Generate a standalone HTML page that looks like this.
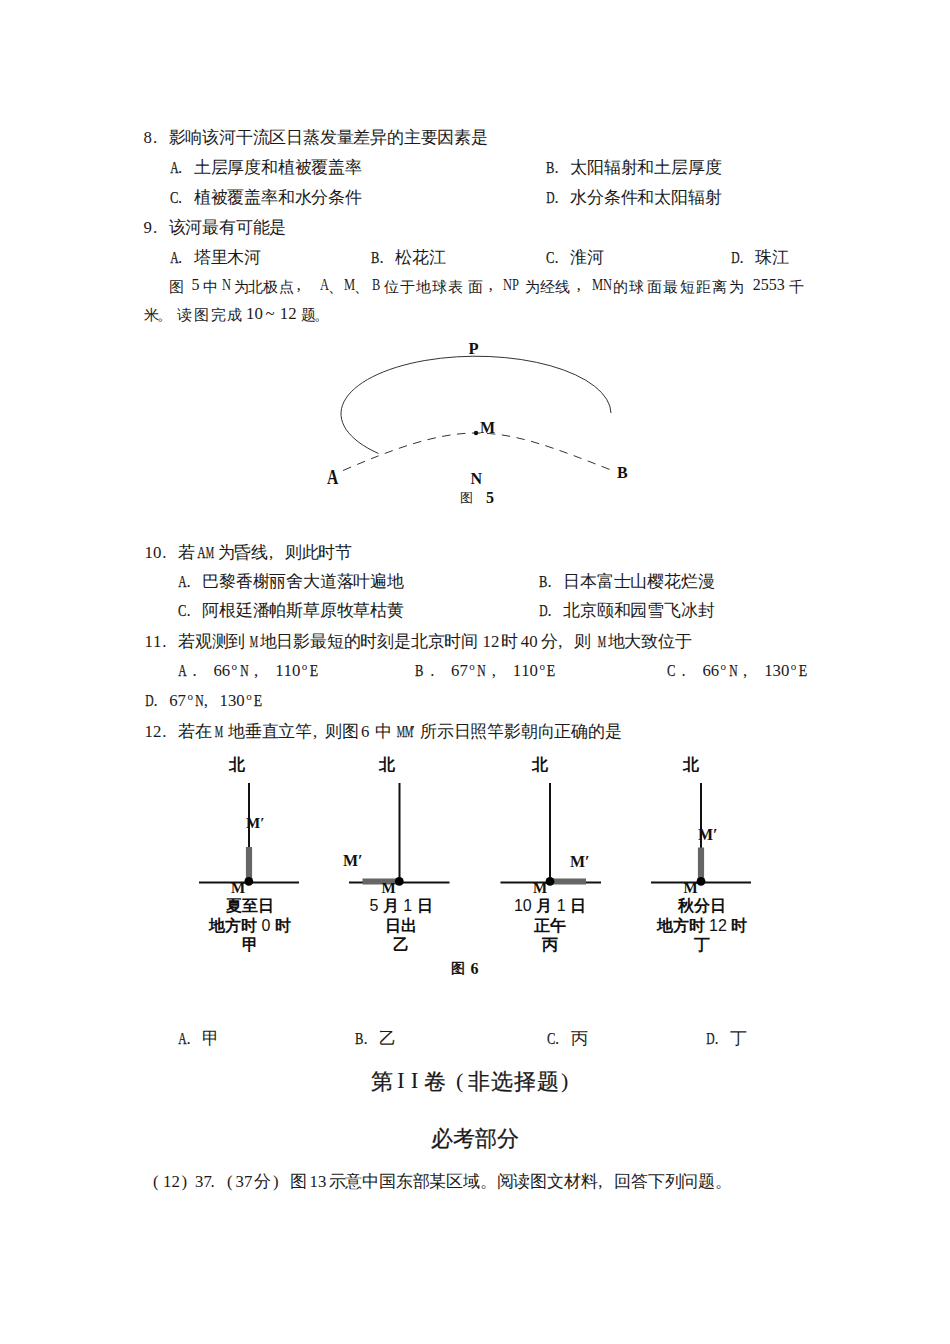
<!DOCTYPE html>
<html><head><meta charset="utf-8"><style>
html,body{margin:0;padding:0;background:#fff}
body{width:950px;height:1344px;position:relative;overflow:hidden}
.t{position:absolute;font-family:"Liberation Serif",serif;font-size:16.8px;line-height:20px;white-space:pre;color:#1a1a1a;letter-spacing:-0.2px}
i{font-style:normal}
.h{display:inline-block;width:8.4px;text-align:center;letter-spacing:0;font-family:"Liberation Serif",serif}
.lt{-webkit-text-stroke:0.25px #1a1a1a}
.f{display:inline-block;width:16.8px;text-align:left;letter-spacing:0;text-indent:1px;font-family:"Liberation Serif",serif}
.s{display:inline-block;width:4.2px}
.dg{vertical-align:6px;font-size:11px;line-height:0}
.pr{width:8.4px;text-align:left}
.op{text-align:right;text-indent:0;padding-right:1px;box-sizing:border-box}
.hd{position:absolute;font-family:"Liberation Sans",sans-serif;font-size:22px;line-height:26px;white-space:pre;color:#1a1a1a;-webkit-text-stroke:0.25px #1a1a1a}
.nw{font-weight:normal}
.g{position:absolute;font-family:"Liberation Sans",sans-serif;font-weight:bold;font-size:16px;line-height:19.6px;white-space:pre;color:#111;text-align:center;width:120px}
.lab{position:absolute;font-family:"Liberation Serif",serif;font-weight:bold;white-space:pre;color:#111;line-height:1}
svg{position:absolute;left:0;top:0}
</style></head><body>
<div class="t" style="left:143.5px;top:128px;"><i class="h">8</i><i class="f">.</i>影响该河干流区日蒸发量差异的主要因素是</div>
<div class="t" style="left:168.7px;top:158px;"><i class="h lt" style="transform:scaleX(0.69)">A</i><i class="f">.</i>土层厚度和植被覆盖率</div>
<div class="t" style="left:545px;top:158px;"><i class="h lt" style="transform:scaleX(0.75)">B</i><i class="f">.</i>太阳辐射和土层厚度</div>
<div class="t" style="left:168.7px;top:188px;"><i class="h lt" style="transform:scaleX(0.75)">C</i><i class="f">.</i>植被覆盖率和水分条件</div>
<div class="t" style="left:545px;top:188px;"><i class="h lt" style="transform:scaleX(0.69)">D</i><i class="f">.</i>水分条件和太阳辐射</div>
<div class="t" style="left:143.5px;top:218px;"><i class="h">9</i><i class="f">.</i>该河最有可能是</div>
<div class="t" style="left:168.7px;top:248px;"><i class="h lt" style="transform:scaleX(0.69)">A</i><i class="f">.</i>塔里木河</div>
<div class="t" style="left:370px;top:248px;"><i class="h lt" style="transform:scaleX(0.75)">B</i><i class="f">.</i>松花江</div>
<div class="t" style="left:545px;top:248px;"><i class="h lt" style="transform:scaleX(0.75)">C</i><i class="f">.</i>淮河</div>
<div class="t" style="left:730px;top:248px;"><i class="h lt" style="transform:scaleX(0.69)">D</i><i class="f">.</i>珠江</div>
<div class="t" style="left:169.4px;top:276.5px;font-size:15px;letter-spacing:0">图</div>
<div class="t" style="left:191.5px;top:275px;font-size:16px;letter-spacing:0;transform:scaleX(1.0);transform-origin:0 0">5</div>
<div class="t" style="left:202.5px;top:276.5px;font-size:15px;letter-spacing:0">中</div>
<div class="t" style="left:222.0px;top:275px;font-size:16px;letter-spacing:0;transform:scaleX(0.78);transform-origin:0 0">N</div>
<div class="t" style="left:233.8px;top:276.5px;font-size:15px;letter-spacing:0">为</div>
<div class="t" style="left:248.1px;top:276.5px;font-size:15px;letter-spacing:0">北</div>
<div class="t" style="left:263.3px;top:276.5px;font-size:15px;letter-spacing:0">极</div>
<div class="t" style="left:278.5px;top:276.5px;font-size:15px;letter-spacing:0">点</div>
<div class="t" style="left:296.7px;top:275px;font-size:16px;letter-spacing:0;transform:scaleX(1.0);transform-origin:0 0">,</div>
<div class="t" style="left:320.1px;top:275px;font-size:16px;letter-spacing:0;transform:scaleX(0.78);transform-origin:0 0">A</div>
<div class="t" style="left:328.0px;top:276.5px;font-size:15px;letter-spacing:0">、</div>
<div class="t" style="left:344.2px;top:275px;font-size:16px;letter-spacing:0;transform:scaleX(0.78);transform-origin:0 0">M</div>
<div class="t" style="left:354.0px;top:276.5px;font-size:15px;letter-spacing:0">、</div>
<div class="t" style="left:372.0px;top:275px;font-size:16px;letter-spacing:0;transform:scaleX(0.78);transform-origin:0 0">B</div>
<div class="t" style="left:383.8px;top:276.5px;font-size:15px;letter-spacing:0">位</div>
<div class="t" style="left:399.9px;top:276.5px;font-size:15px;letter-spacing:0">于</div>
<div class="t" style="left:416.0px;top:276.5px;font-size:15px;letter-spacing:0">地</div>
<div class="t" style="left:432.1px;top:276.5px;font-size:15px;letter-spacing:0">球</div>
<div class="t" style="left:448.2px;top:276.5px;font-size:15px;letter-spacing:0">表</div>
<div class="t" style="left:467.5px;top:276.5px;font-size:15px;letter-spacing:0">面</div>
<div class="t" style="left:488.7px;top:275px;font-size:16px;letter-spacing:0;transform:scaleX(1.0);transform-origin:0 0">,</div>
<div class="t" style="left:503.2px;top:275px;font-size:16px;letter-spacing:0;transform:scaleX(0.78);transform-origin:0 0">NP</div>
<div class="t" style="left:524.8px;top:276.5px;font-size:15px;letter-spacing:0">为</div>
<div class="t" style="left:540.0px;top:276.5px;font-size:15px;letter-spacing:0">经</div>
<div class="t" style="left:555.3px;top:276.5px;font-size:15px;letter-spacing:0">线</div>
<div class="t" style="left:576.7px;top:275px;font-size:16px;letter-spacing:0;transform:scaleX(1.0);transform-origin:0 0">,</div>
<div class="t" style="left:591.7px;top:275px;font-size:16px;letter-spacing:0;transform:scaleX(0.78);transform-origin:0 0">MN</div>
<div class="t" style="left:613.4px;top:276.5px;font-size:15px;letter-spacing:0">的</div>
<div class="t" style="left:629.0px;top:276.5px;font-size:15px;letter-spacing:0">球</div>
<div class="t" style="left:647.0px;top:276.5px;font-size:15px;letter-spacing:0">面</div>
<div class="t" style="left:663.0px;top:276.5px;font-size:15px;letter-spacing:0">最</div>
<div class="t" style="left:680.0px;top:276.5px;font-size:15px;letter-spacing:0">短</div>
<div class="t" style="left:696.0px;top:276.5px;font-size:15px;letter-spacing:0">距</div>
<div class="t" style="left:712.0px;top:276.5px;font-size:15px;letter-spacing:0">离</div>
<div class="t" style="left:729.0px;top:276.5px;font-size:15px;letter-spacing:0">为</div>
<div class="t" style="left:752.7px;top:275px;font-size:16px;letter-spacing:0;transform:scaleX(1.0);transform-origin:0 0">2553</div>
<div class="t" style="left:789.0px;top:276.5px;font-size:15px;letter-spacing:0">千</div>
<div class="t" style="left:144.3px;top:305px;font-size:15px;letter-spacing:0">米</div>
<div class="t" style="left:157.0px;top:305px;font-size:15px;letter-spacing:0">。</div>
<div class="t" style="left:176.9px;top:305px;font-size:15px;letter-spacing:0">读</div>
<div class="t" style="left:194.0px;top:305px;font-size:15px;letter-spacing:0">图</div>
<div class="t" style="left:210.6px;top:305px;font-size:15px;letter-spacing:0">完</div>
<div class="t" style="left:227.4px;top:305px;font-size:15px;letter-spacing:0">成</div>
<div class="t" style="left:301.1px;top:305px;font-size:15px;letter-spacing:0">题</div>
<div class="t" style="left:314.0px;top:305px;font-size:15px;letter-spacing:0">。</div>
<div class="t" style="left:246.0px;top:303.5px;font-size:16.8px;letter-spacing:0">10</div>
<div class="t" style="left:265.5px;top:303.5px;font-size:16.8px;letter-spacing:0">~</div>
<div class="t" style="left:279.8px;top:303.5px;font-size:16.8px;letter-spacing:0">12</div>
<div class="t" style="left:144.5px;top:543px;"><i class="h">1</i><i class="h">0</i><i class="f">.</i>若</div>
<div class="t" style="left:196px;top:543px;"><i class="h lt" style="transform:scaleX(0.69)">A</i><i class="h lt" style="transform:scaleX(0.56)">M</i></div>
<div class="t" style="left:217.5px;top:543px;">为昏线<i class="f">,</i>则此时节</div>
<div class="t" style="left:177px;top:572px;"><i class="h lt" style="transform:scaleX(0.69)">A</i><i class="f">.</i>巴黎香榭丽舍大道落叶遍地</div>
<div class="t" style="left:538px;top:572px;"><i class="h lt" style="transform:scaleX(0.75)">B</i><i class="f">.</i>日本富士山樱花烂漫</div>
<div class="t" style="left:177px;top:601px;"><i class="h lt" style="transform:scaleX(0.75)">C</i><i class="f">.</i>阿根廷潘帕斯草原牧草枯黄</div>
<div class="t" style="left:538px;top:601px;"><i class="h lt" style="transform:scaleX(0.69)">D</i><i class="f">.</i>北京颐和园雪飞冰封</div>
<div class="t" style="left:144.5px;top:632px;"><i class="h">1</i><i class="h">1</i><i class="f">.</i>若观测到</div>
<div class="t" style="left:247.5px;top:632px;"><i class="h lt" style="transform:scaleX(0.56)">M</i></div>
<div class="t" style="left:259.5px;top:632px;">地日影最短的时刻是北京时间</div>
<div class="t" style="left:482.5px;top:632px;"><i class="h">1</i><i class="h">2</i></div>
<div class="t" style="left:500.8px;top:632px;">时</div>
<div class="t" style="left:520.8px;top:632px;"><i class="h">4</i><i class="h">0</i></div>
<div class="t" style="left:540.5px;top:632px;">分<i class="f">,</i>则</div>
<div class="t" style="left:595.5px;top:632px;"><i class="h lt" style="transform:scaleX(0.56)">M</i></div>
<div class="t" style="left:607.5px;top:632px;">地大致位于</div>
<div class="t" style="left:176.5px;top:661px;"><i class="h lt" style="transform:scaleX(0.69)">A</i></div>
<div class="t" style="left:190.5px;top:661px;"><i class="h">.</i></div>
<div class="t" style="left:213.4px;top:661px;"><i class="h">6</i><i class="h">6</i><i class="h dg">o</i><i class="h lt" style="transform:scaleX(0.69)">N</i></div>
<div class="t" style="left:252px;top:661px;"><i class="h">,</i></div>
<div class="t" style="left:275.2px;top:661px;"><i class="h">1</i><i class="h">1</i><i class="h">0</i><i class="h dg">o</i><i class="h lt" style="transform:scaleX(0.82)">E</i></div>
<div class="t" style="left:414.1px;top:661px;"><i class="h lt" style="transform:scaleX(0.75)">B</i></div>
<div class="t" style="left:428.1px;top:661px;"><i class="h">.</i></div>
<div class="t" style="left:451.0px;top:661px;"><i class="h">6</i><i class="h">7</i><i class="h dg">o</i><i class="h lt" style="transform:scaleX(0.69)">N</i></div>
<div class="t" style="left:489.6px;top:661px;"><i class="h">,</i></div>
<div class="t" style="left:512.8px;top:661px;"><i class="h">1</i><i class="h">1</i><i class="h">0</i><i class="h dg">o</i><i class="h lt" style="transform:scaleX(0.82)">E</i></div>
<div class="t" style="left:665.5px;top:661px;"><i class="h lt" style="transform:scaleX(0.75)">C</i></div>
<div class="t" style="left:679.5px;top:661px;"><i class="h">.</i></div>
<div class="t" style="left:702.4px;top:661px;"><i class="h">6</i><i class="h">6</i><i class="h dg">o</i><i class="h lt" style="transform:scaleX(0.69)">N</i></div>
<div class="t" style="left:741px;top:661px;"><i class="h">,</i></div>
<div class="t" style="left:764.2px;top:661px;"><i class="h">1</i><i class="h">3</i><i class="h">0</i><i class="h dg">o</i><i class="h lt" style="transform:scaleX(0.82)">E</i></div>
<div class="t" style="left:144px;top:691px;"><i class="h lt" style="transform:scaleX(0.69)">D</i><i class="f">.</i><i class="h">6</i><i class="h">7</i><i class="h dg">o</i><i class="h lt" style="transform:scaleX(0.69)">N</i><i class="f">,</i><i class="h">1</i><i class="h">3</i><i class="h">0</i><i class="h dg">o</i><i class="h lt" style="transform:scaleX(0.82)">E</i></div>
<div class="t" style="left:144.5px;top:722px;"><i class="h">1</i><i class="h">2</i><i class="f">.</i>若在</div>
<div class="t" style="left:213px;top:722px;"><i class="h lt" style="transform:scaleX(0.56)">M</i></div>
<div class="t" style="left:228px;top:722px;">地垂直立竿<i class="f">,</i></div>
<div class="t" style="left:325px;top:722px;">则图</div>
<div class="t" style="left:361px;top:722px;"><i class="h">6</i></div>
<div class="t" style="left:374.5px;top:722px;">中</div>
<div class="t" style="left:394.5px;top:722px;"><i class="h lt" style="transform:scaleX(0.56)">M</i><i class="h lt" style="transform:scaleX(0.56)">M</i><i class="h pr">′</i></div>
<div class="t" style="left:420px;top:722px;">所示日照竿影朝向正确的是</div>
<div class="t" style="left:177px;top:1029px;"><i class="h lt" style="transform:scaleX(0.69)">A</i><i class="f">.</i>甲</div>
<div class="t" style="left:354px;top:1029px;"><i class="h lt" style="transform:scaleX(0.75)">B</i><i class="f">.</i>乙</div>
<div class="t" style="left:545.5px;top:1029px;"><i class="h lt" style="transform:scaleX(0.75)">C</i><i class="f">.</i>丙</div>
<div class="t" style="left:705px;top:1029px;"><i class="h lt" style="transform:scaleX(0.69)">D</i><i class="f">.</i>丁</div>
<div class="t" style="left:151.5px;top:1172px;"><i class="h">(</i></div>
<div class="t" style="left:163px;top:1172px;"><i class="h">1</i><i class="h">2</i></div>
<div class="t" style="left:180px;top:1172px;"><i class="h">)</i></div>
<div class="t" style="left:195px;top:1172px;"><i class="h">3</i><i class="h">7</i></div>
<div class="t" style="left:208.5px;top:1172px;"><i class="h">.</i></div>
<div class="t" style="left:225.5px;top:1172px;"><i class="h">(</i></div>
<div class="t" style="left:235.5px;top:1172px;"><i class="h">3</i><i class="h">7</i></div>
<div class="t" style="left:253.5px;top:1172px;">分</div>
<div class="t" style="left:271.5px;top:1172px;"><i class="h">)</i></div>
<div class="t" style="left:290px;top:1172px;">图</div>
<div class="t" style="left:309.5px;top:1172px;"><i class="h">1</i><i class="h">3</i></div>
<div class="t" style="left:328.5px;top:1172px;">示意中国东部某区域。阅读图文材料<i class="f">,</i>回答下列问题。</div>
<!-- Figure 5 -->
<svg width="950" height="1344" viewBox="0 0 950 1344">
  <path d="M378.5 453.5 A135 57.5 0 1 1 611 413" fill="none" stroke="#333" stroke-width="1"/>
  <path d="M343 470.5 C393 449 436 433 476 433 C516 433 551.6 446.8 611.6 470.2" fill="none" stroke="#333" stroke-width="1" stroke-dasharray="8.5 6.5"/>
  <circle cx="476" cy="433" r="2.2" fill="#111"/>
  <!-- Figure 6 -->
  <g stroke="#111" stroke-width="2" fill="none">
    <line x1="249" y1="783" x2="249" y2="882"/>
    <line x1="199" y1="882.5" x2="299" y2="882.5"/>
    <line x1="399.5" y1="783" x2="399.5" y2="882"/>
    <line x1="349" y1="882.5" x2="449.5" y2="882.5"/>
    <line x1="550" y1="783" x2="550" y2="882"/>
    <line x1="500.5" y1="882.5" x2="601" y2="882.5"/>
    <line x1="701" y1="783" x2="701" y2="882"/>
    <line x1="651" y1="882.5" x2="751" y2="882.5"/>
  </g>
  <g stroke="#666" stroke-width="6.2" fill="none">
    <line x1="249" y1="847" x2="249" y2="882"/>
    <line x1="362.5" y1="881.5" x2="399.5" y2="881.5"/>
    <line x1="550" y1="881.5" x2="586" y2="881.5"/>
    <line x1="701" y1="847.5" x2="701" y2="882"/>
  </g>
  <g fill="#000">
    <circle cx="248.8" cy="881.4" r="4.4"/>
    <circle cx="399.3" cy="881.4" r="4.4"/>
    <circle cx="550" cy="881.4" r="4.4"/>
    <circle cx="701" cy="881.4" r="4.4"/>
  </g>
</svg>

<div class="lab" style="left:468.5px;top:341px;font-size:16.5px">P</div>
<div class="lab" style="left:480px;top:419.5px;font-size:16px">M</div>
<div class="lab" style="left:327px;top:467px;font-size:19px;transform:scale(0.82,1.05);transform-origin:0 0">A</div>
<div class="lab" style="left:470.5px;top:471px;font-size:16px">N</div>
<div class="lab" style="left:617px;top:464.5px;font-size:16px">B</div>
<div class="t" style="left:460px;top:488px;font-size:13px;letter-spacing:0">图</div>
<div class="lab" style="left:486px;top:490px;font-size:16px">5</div>

<!-- Figure 6 labels -->
<div class="g" style="left:176.5px;top:755px">北</div>
<div class="g" style="left:326.5px;top:755px">北</div>
<div class="g" style="left:479.5px;top:755px">北</div>
<div class="g" style="left:630.5px;top:755px">北</div>
<div class="lab" style="left:246px;top:816px;font-size:15px">M′</div>
<div class="lab" style="left:343px;top:853px;font-size:16px">M′</div>
<div class="lab" style="left:570px;top:854px;font-size:16px">M′</div>
<div class="lab" style="left:698px;top:827px;font-size:16px">M′</div>
<div class="lab" style="left:231px;top:881px;font-size:15px">M</div>
<div class="lab" style="left:381.5px;top:881px;font-size:15px">M</div>
<div class="lab" style="left:533px;top:881px;font-size:15px">M</div>
<div class="lab" style="left:683.5px;top:881px;font-size:15px">M</div>
<div class="g" style="left:190px;top:896px">夏至日
地方时 <span class="nw">0</span> 时
甲</div>
<div class="g" style="left:341px;top:896px"><span class="nw">5</span> 月 <span class="nw">1</span> 日
日出
乙</div>
<div class="g" style="left:490px;top:896px"><span class="nw">10</span> 月 <span class="nw">1</span> 日
正午
丙</div>
<div class="g" style="left:642px;top:896px">秋分日
地方时 <span class="nw">12</span> 时
丁</div>
<div class="t" style="left:451px;top:959px;font-size:14px;font-weight:bold;letter-spacing:0">图</div>
<div class="lab" style="left:470.5px;top:961px;font-size:16px">6</div>

<div class="hd" style="left:370.5px;top:1069px">第</div>
<div class="hd" style="left:397px;top:1068px;font-family:'Liberation Serif',serif;letter-spacing:6px;-webkit-text-stroke:0;font-size:23px">II</div>
<div class="hd" style="left:423.5px;top:1069px">卷</div>
<div class="hd" style="left:456px;top:1068px;font-family:'Liberation Serif',serif;-webkit-text-stroke:0">(</div>
<div class="hd" style="left:468px;top:1069px;letter-spacing:1px">非选择题</div>
<div class="hd" style="left:561px;top:1068px;font-family:'Liberation Serif',serif;-webkit-text-stroke:0">)</div>
<div class="hd" style="left:431px;top:1126px">必考部分</div>
</body></html>
